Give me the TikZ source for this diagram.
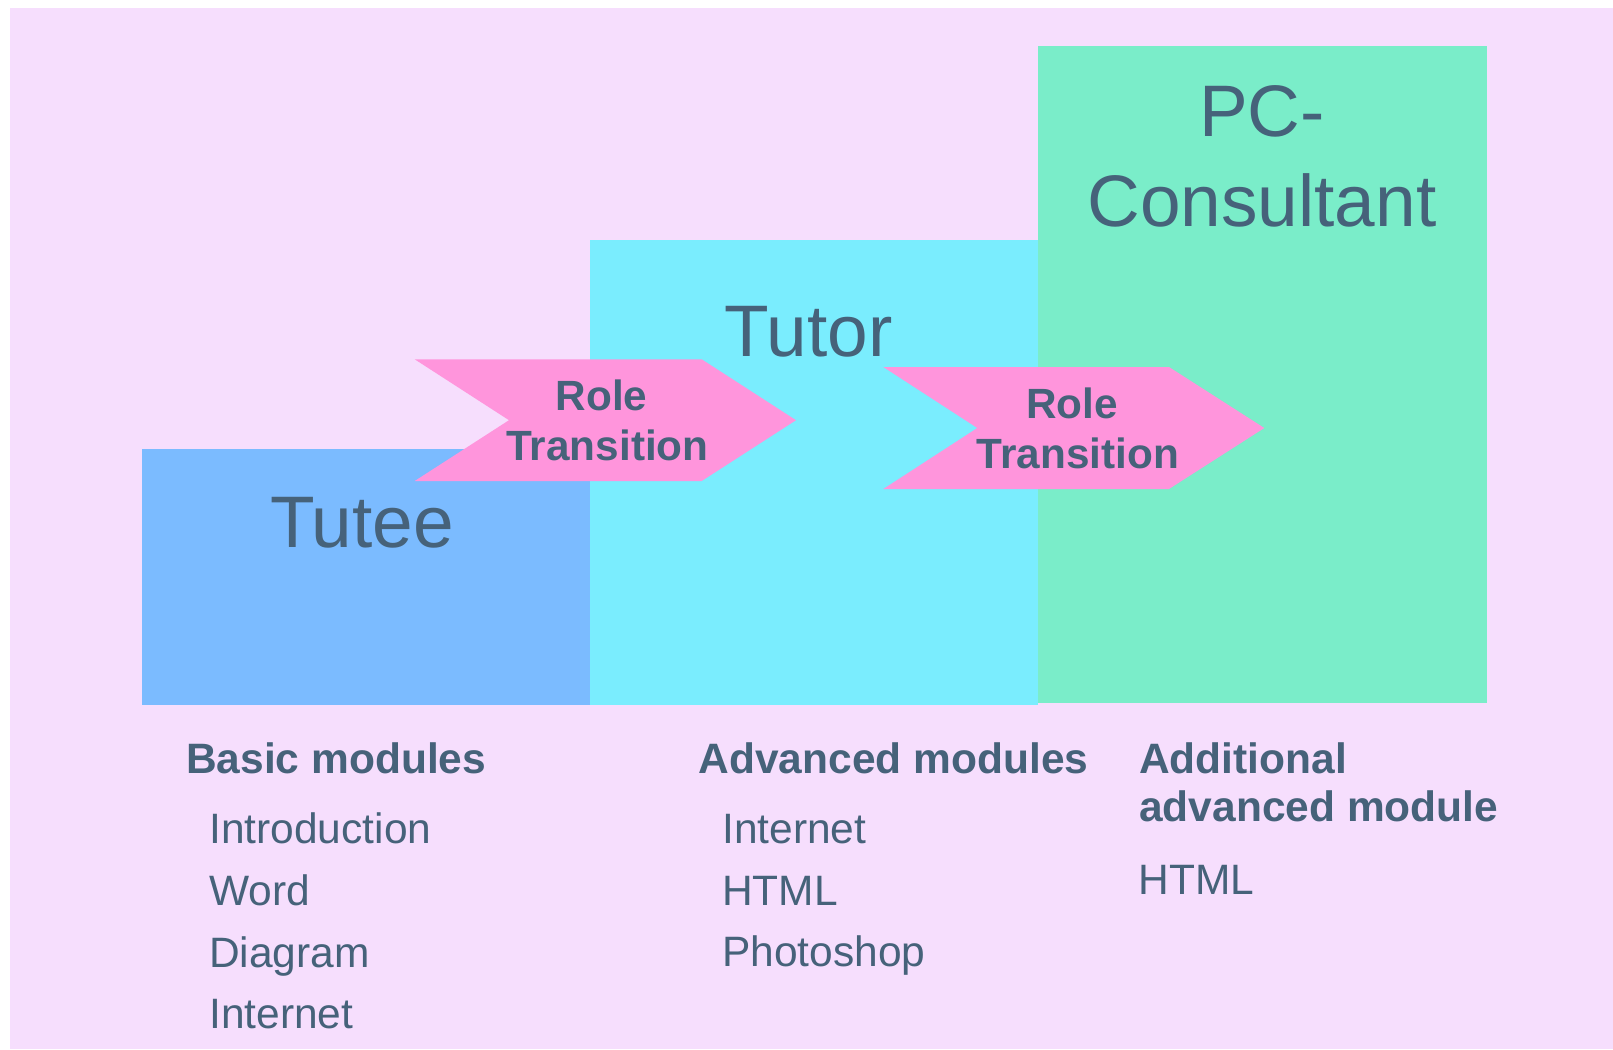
\documentclass[tikz,border=0pt]{standalone}
\usepackage{fontspec}
\setmainfont{Liberation Sans}
\definecolor{bgc}{HTML}{F6DEFD}
\definecolor{tuteec}{HTML}{7BBBFF}
\definecolor{tutorc}{HTML}{7AEDFE}
\definecolor{pcc}{HTML}{7AEDC9}
\definecolor{arrc}{HTML}{FF95DC}
\definecolor{txtc}{HTML}{46627A}
\begin{document}
\begin{tikzpicture}[x=1pt,y=-1pt,
  box/.style={draw=none,anchor=north west,inner sep=0pt,outer sep=0pt},
  big/.style={text=txtc,inner sep=0pt,anchor=base,align=center,font=\fontsize{73pt}{90.7pt}\selectfont},
  rt/.style={text=txtc,inner sep=0pt,anchor=base,align=center,font=\fontsize{42.3pt}{50pt}\selectfont\bfseries},
  head/.style={text=txtc,inner sep=0pt,anchor=base west,align=left,font=\fontsize{42.5pt}{48.7pt}\selectfont\bfseries},
  item/.style={text=txtc,inner sep=0pt,anchor=base west,font=\fontsize{42.5pt}{50pt}\selectfont},
  roleshape/.style={fill=arrc,draw=none}]
\useasboundingbox (0,0) rectangle (1613,1049);
\fill[bgc] (10,8) rectangle (1613,1049);
% boxes
\node[box,fill=tuteec,minimum width=448pt,minimum height=256.2pt] (tutee) at (142,448.5) {};
\node[box,fill=tutorc,minimum width=448.5pt,minimum height=465pt] (tutor) at (589.5,239.7) {};
\node[box,fill=pcc,minimum width=449pt,minimum height=656.7pt] (pc) at (1038,46) {};
% role transition arrows
\coordinate (a1) at (414.7,359.3);
\coordinate (a2) at (883.3,367);
\fill[roleshape] (a1) -- ++(287,0) -- ++(94.3,60.9) -- ++(-94.3,60.8) -- ++(-287,0) -- ++(94.3,-60.8) -- cycle;
\fill[roleshape] (a2) -- ++(285.7,0) -- ++(95.3,61) -- ++(-95.3,61) -- ++(-285.7,0) -- ++(94,-61) -- cycle;
% box titles
\node[big] (tuteet) at (362,547.7) {Tutee};
\node[big] (tutort) at (808.5,356.7) {Tutor};
\node[big] (pct) at (1262,226.7) {PC-\\Consultant};
\node[rt] (rt1) at (607.5,460.7) {Role\hspace*{12pt}\\Transition};
\node[rt] (rt2) at (1078,468.3) {Role\hspace*{12pt}\\Transition};
% module lists
\node[head] (basic) at (186,773) {Basic modules};
\node[item] (b1) at (209,843.3) {Introduction};
\node[item] (b2) at (209,905.5) {Word};
\node[item] (b3) at (209,967) {Diagram};
\node[item] (b4) at (209,1028) {Internet};
\node[head] (adv) at (698.5,773) {Advanced modules};
\node[item] (v1) at (722,843.3) {Internet};
\node[item] (v2) at (722,905.3) {HTML};
\node[item] (v3) at (722,966.7) {Photoshop};
\node[head] (add) at (1139,821.7) {Additional\\advanced module};
\node[item] (d1) at (1138.5,894.3) {HTML};
\end{tikzpicture}
\end{document}
